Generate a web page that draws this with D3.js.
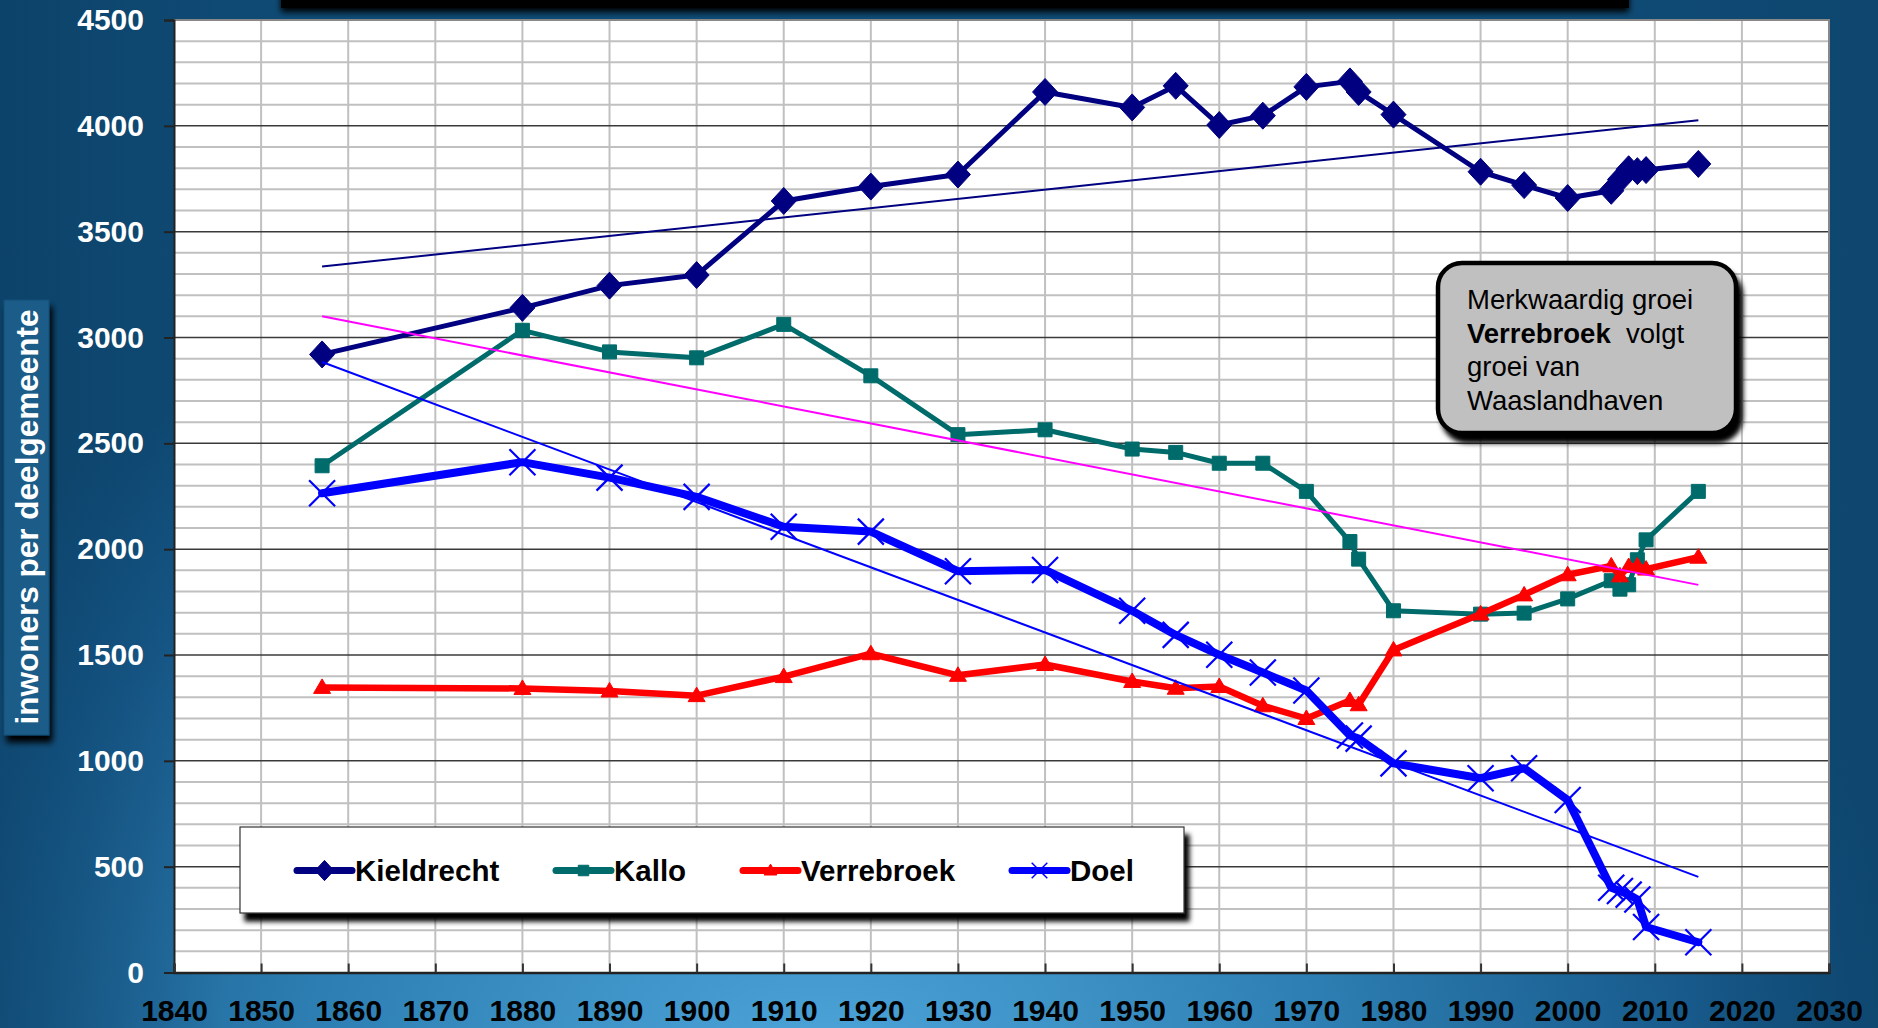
<!DOCTYPE html>
<html>
<head>
<meta charset="utf-8">
<script src="https://cdn.jsdelivr.net/npm/d3@7"></script>
<style>
  html, body { margin: 0; padding: 0; background: #155885; }
  svg { display: block; font-family: "Liberation Sans", Arial, sans-serif; }
</style>
</head>
<body>
<svg id="chart" width="1878" height="1028"></svg>
<script>
// Census years shared by all four sub-municipalities
const years = [1857, 1880, 1890, 1900, 1910, 1920, 1930, 1940, 1950, 1955, 1960, 1965, 1970,
               1975, 1976, 1980, 1990, 1995, 2000, 2005, 2006, 2007, 2008, 2009, 2015];

// Inhabitants per sub-municipality
const kieldrecht = [2920, 3140, 3245, 3295, 3645, 3713, 3770, 4160, 4087, 4189, 4004, 4048, 4184,
                    4210, 4160, 4053, 3783, 3720, 3659, 3693, 3746, 3795, 3786, 3791, 3820];
const kallo      = [2394, 3034, 2932, 2904, 3062, 2819, 2541, 2564, 2473, 2457, 2406, 2406, 2273,
                    2036, 1953, 1709, 1693, 1698, 1765, 1851, 1811, 1832, 1950, 2044, 2273];
const verrebroek = [1347, 1342, 1330, 1308, 1398, 1506, 1404, 1455, 1375, 1343, 1351, 1260, 1200,
                    1285, 1265, 1524, 1694, 1784, 1879, 1921, 1874, 1918, 1921, 1906, 1962];
const doel       = [2264, 2411, 2338, 2247, 2106, 2083, 1896, 1902, 1709, 1595, 1501, 1417, 1332,
                    1120, 1105, 988, 918, 965, 815, 400, 385, 368, 345, 215, 143];

const seriesNames = ["Kieldrecht", "Kallo", "Verrebroek", "Doel"];
const xTicks = d3.range(1840, 2031, 10);
const yTicks = d3.range(0, 4501, 500);
const yMinorTicks = d3.range(0, 4501, 100);
const axisTitle = "inwoners per deelgemeente";
const noteLines = [
  [{t: "Merkwaardig groei", b: false}],
  [{t: "Verrebroek", b: true}, {t: "\u00a0 volgt", b: false}],
  [{t: "groei van", b: false}],
  [{t: "Waaslandhaven", b: false}]
];

const series = [
  {name: seriesNames[0], values: kieldrecht, color: "#000080", width: 5, marker: "diamond", trend: "#000080"},
  {name: seriesNames[1], values: kallo,      color: "#006b6b", width: 5, marker: "square",  trend: "#ff00ff"},
  {name: seriesNames[2], values: verrebroek, color: "#ff0000", width: 6.5, marker: "triangle", trend: null},
  {name: seriesNames[3], values: doel,       color: "#0000ff", width: 8, marker: "cross",   trend: "#0000ff"}
];

const svg = d3.select("#chart");
const W = 1878, H = 1028;
const plot = {left: 174, right: 1829, top: 20, bottom: 972.5};

const x = d3.scaleLinear().domain([1840, 2030]).range([plot.left, plot.right]);
const y = d3.scaleLinear().domain([0, 4500]).range([plot.bottom, plot.top]);

// ---------- defs: background gradient and shadows ----------
const defs = svg.append("defs");
const bg = defs.append("radialGradient").attr("id", "bg")
  .attr("gradientUnits", "userSpaceOnUse")
  .attr("cx", 820).attr("cy", 1080).attr("r", 1100)
  .attr("gradientTransform", "translate(820 1080) scale(1 0.75) translate(-820 -1080)");
bg.append("stop").attr("offset", 0).attr("stop-color", "#4ea6da");
bg.append("stop").attr("offset", 0.45).attr("stop-color", "#2e80b4");
bg.append("stop").attr("offset", 0.8).attr("stop-color", "#17598a");
bg.append("stop").attr("offset", 1).attr("stop-color", "#0f4a74");

const leftShade = defs.append("linearGradient").attr("id", "leftShade")
  .attr("x1", 0).attr("x2", 1).attr("y1", 0).attr("y2", 0);
leftShade.append("stop").attr("offset", 0).attr("stop-color", "#0a3d62").attr("stop-opacity", 0.55);
leftShade.append("stop").attr("offset", 0.12).attr("stop-color", "#0a3d62").attr("stop-opacity", 0);
leftShade.append("stop").attr("offset", 0.9).attr("stop-color", "#0a3d62").attr("stop-opacity", 0);
leftShade.append("stop").attr("offset", 1).attr("stop-color", "#0a3d62").attr("stop-opacity", 0.35);

function shadow(id, dx, dy, sd) {
  const f = defs.append("filter").attr("id", id)
    .attr("x", "-10%").attr("y", "-20%").attr("width", "130%").attr("height", "150%");
  f.append("feDropShadow").attr("dx", dx).attr("dy", dy).attr("stdDeviation", sd)
    .attr("flood-color", "#000").attr("flood-opacity", 1);
}
shadow("shadowBox", 5, 8, 2.5);
shadow("shadowBar", 0, 4, 3);
shadow("shadowLabel", 3, 7, 3);

svg.append("rect").attr("width", W).attr("height", H).attr("fill", "url(#bg)");
svg.append("rect").attr("width", W).attr("height", H).attr("fill", "url(#leftShade)");

// title bar cut off at the top edge
svg.append("rect").attr("x", 281).attr("y", -20).attr("width", 1348).attr("height", 28)
  .attr("fill", "#000").attr("filter", "url(#shadowBar)");

// ---------- plot area ----------
svg.append("rect").attr("x", plot.left).attr("y", plot.top)
  .attr("width", plot.right - plot.left).attr("height", plot.bottom - plot.top)
  .attr("fill", "#fff");

const grid = svg.append("g");
grid.selectAll("line.minor").data(yMinorTicks.filter(v => v % 500 !== 0)).join("line")
  .attr("x1", plot.left).attr("x2", plot.right)
  .attr("y1", d => y(d)).attr("y2", d => y(d))
  .attr("stroke", "#c0c0c0").attr("stroke-width", 2);
grid.selectAll("line.vert").data(xTicks.slice(1)).join("line")
  .attr("x1", d => x(d)).attr("x2", d => x(d))
  .attr("y1", plot.top).attr("y2", plot.bottom)
  .attr("stroke", "#c0c0c0").attr("stroke-width", 2);
grid.selectAll("line.major").data(yTicks.slice(1, -1)).join("line")
  .attr("x1", plot.left).attr("x2", plot.right)
  .attr("y1", d => y(d)).attr("y2", d => y(d))
  .attr("stroke", "#3a3a3a").attr("stroke-width", 1.5);

// plot border (top/right grey)
svg.append("path")
  .attr("d", `M${plot.left},${plot.top}H${plot.right}V${plot.bottom}`)
  .attr("fill", "none").attr("stroke", "#888").attr("stroke-width", 2);

// ---------- axes ----------
const yAxis = svg.append("g").attr("transform", `translate(${plot.left},0)`)
  .call(d3.axisLeft(y).tickValues(yTicks).tickSize(10).tickPadding(20).tickFormat(d3.format("d")));
yAxis.select(".domain").attr("stroke", "#222").attr("stroke-width", 2);
yAxis.selectAll(".tick line").attr("stroke", "#222").attr("stroke-width", 2);
yAxis.selectAll(".tick text").attr("fill", "#fff").attr("font-size", 30)
  .attr("font-weight", "bold").attr("font-family", "'Liberation Sans', Arial, sans-serif");

const xAxis = svg.append("g").attr("transform", `translate(0,${plot.bottom})`)
  .call(d3.axisBottom(x).tickValues(xTicks).tickSize(-9).tickPadding(27).tickFormat(d3.format("d")));
xAxis.select(".domain").attr("stroke", "#222").attr("stroke-width", 2.5);
xAxis.selectAll(".tick line").attr("stroke", "#333").attr("stroke-width", 2);
xAxis.selectAll(".tick text").attr("fill", "#000").attr("font-size", 30)
  .attr("font-weight", "bold").attr("font-family", "'Liberation Sans', Arial, sans-serif")
  .attr("dy", "0.71em");

// ---------- y-axis title ----------
svg.append("rect").attr("x", 4).attr("y", 300).attr("width", 45).attr("height", 435)
  .attr("fill", "#1a5b88").attr("stroke", "#164e76").attr("stroke-width", 1)
  .attr("filter", "url(#shadowLabel)");
svg.append("text")
  .attr("transform", "translate(38,517) rotate(-90)")
  .attr("text-anchor", "middle")
  .attr("fill", "#fff").attr("font-weight", "bold").attr("font-size", 31.5)
  .text(axisTitle);

// ---------- markers ----------
function markerPath(type, s) {
  switch (type) {
    case "diamond": return `M0,${-13.5 * s}L${12.5 * s},0L0,${13.5 * s}L${-12.5 * s},0Z`;
    case "square": return `M${-7 * s},${-7 * s}h${14 * s}v${14 * s}h${-14 * s}Z`;
    case "triangle": return `M0,${-8.5 * s}L${8.5 * s},${6 * s}L${-8.5 * s},${6 * s}Z`;
    case "cross": return `M${-13 * s},${-13 * s}L${13 * s},${13 * s}M${13 * s},${-13 * s}L${-13 * s},${13 * s}`;
  }
}

const lineGen = d3.line().x(d => x(d[0])).y(d => y(d[1]));

series.forEach(s => {
  const pts = years.map((yr, i) => [yr, s.values[i]]);
  const g = svg.append("g");
  g.append("path").datum(pts).attr("d", lineGen)
    .attr("fill", "none").attr("stroke", s.color).attr("stroke-width", s.width)
    .attr("stroke-linejoin", "round").attr("stroke-linecap", "round");
  g.selectAll("path.m").data(pts).join("path")
    .attr("transform", d => `translate(${x(d[0])},${y(d[1])})`)
    .attr("d", markerPath(s.marker, 1))
    .attr("fill", s.marker === "cross" ? "none" : s.color)
    .attr("stroke", s.color)
    .attr("stroke-width", s.marker === "cross" ? 2.2 : 1);
});

// ---------- linear trendlines (least squares over the census years) ----------
series.filter(s => s.trend).forEach(s => {
  const mx = d3.mean(years), my = d3.mean(s.values);
  let sxy = 0, sxx = 0;
  years.forEach((yr, i) => { sxy += (yr - mx) * (s.values[i] - my); sxx += (yr - mx) ** 2; });
  const slope = sxy / sxx, icpt = my - slope * mx;
  const x0 = d3.min(years), x1 = d3.max(years);
  svg.append("line")
    .attr("x1", x(x0)).attr("y1", y(icpt + slope * x0))
    .attr("x2", x(x1)).attr("y2", y(icpt + slope * x1))
    .attr("stroke", s.trend).attr("stroke-width", 2);
});

// ---------- legend ----------
const legend = svg.append("g");
legend.append("rect").attr("x", 240).attr("y", 827).attr("width", 944).attr("height", 86)
  .attr("fill", "#fff").attr("stroke", "#333").attr("stroke-width", 1.2)
  .attr("filter", "url(#shadowBox)");
const legendX = [297, 556, 743, 1012];
series.forEach((s, i) => {
  const lx = legendX[i], ly = 870.5;
  const g = legend.append("g");
  g.append("line").attr("x1", lx).attr("x2", lx + 55).attr("y1", ly).attr("y2", ly)
    .attr("stroke", s.color).attr("stroke-width", 7).attr("stroke-linecap", "round");
  g.append("path").attr("transform", `translate(${lx + 27.5},${ly})`)
    .attr("d", markerPath(s.marker, s.marker === "cross" ? 0.6 : 0.75))
    .attr("fill", s.marker === "cross" ? "none" : s.color)
    .attr("stroke", s.color).attr("stroke-width", s.marker === "cross" ? 1.5 : 1);
  g.append("text").attr("x", lx + 58).attr("y", ly + 10.5)
    .attr("font-size", 29.5).attr("font-weight", "bold").attr("fill", "#000")
    .text(s.name);
});

// ---------- note box ----------
const note = svg.append("g");
note.append("rect").attr("x", 1438).attr("y", 263).attr("width", 298).attr("height", 170)
  .attr("rx", 24).attr("ry", 24)
  .attr("fill", "#c0c0c0").attr("stroke", "#000").attr("stroke-width", 4.5)
  .attr("filter", "url(#shadowBox)");
noteLines.forEach((line, i) => {
  const t = note.append("text").attr("x", 1467).attr("y", 309 + i * 33.5)
    .attr("font-size", 27.5).attr("fill", "#000");
  line.forEach(part => {
    t.append("tspan").attr("font-weight", part.b ? "bold" : "normal").text(part.t);
  });
});
</script>
</body>
</html>
